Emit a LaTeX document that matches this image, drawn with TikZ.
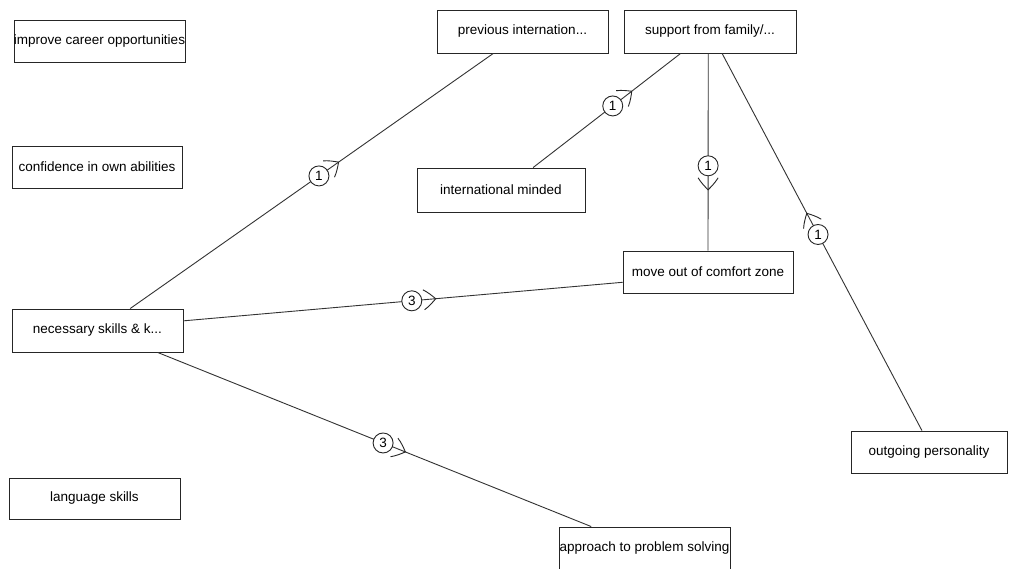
\documentclass[tikz,border=0pt]{standalone}
\usepackage{fontspec}
\setmainfont{Liberation Sans}
\usetikzlibrary{calc,decorations.markings}

\tikzset{
  concept/.style={draw=black!85, line width=0.9pt, fill=white, rectangle,
    inner sep=0pt, font=\fontsize{13.5}{15}\selectfont, text=black},
  numc/.style={draw=black!85, line width=0.9pt, fill=white, circle,
    inner sep=0pt, minimum size=20pt, font=\fontsize{13.5}{15}\selectfont},
  link/.style 2 args={draw=black!80, line width=0.9pt,
    postaction={decorate, decoration={markings,
      mark=at position #1 with {
        \draw[line width=0.9pt, black!85]
          (12pt,10pt) .. controls (17pt,7pt) and (21pt,3pt) .. (24pt,0pt)
          .. controls (21pt,-3pt) and (17pt,-7pt) .. (12pt,-10pt);
        \node[numc] {#2};
      }}}},
}

% box placed by its corners (x1,y1)-(x2,y2), y measured downwards
\newcommand{\conceptbox}[6]{%
  \node[concept, minimum width=#4pt-#2pt, minimum height=#5pt-#3pt]
    (#1) at ({(#2+#4)/2},{(#3+#5)/2}) {#6};}

\begin{document}
\begin{tikzpicture}[x=1pt, y=-1pt]
  \useasboundingbox[fill=white] (0,0) rectangle (1010,568);

  % concept boxes
  \conceptbox{career}{15}{20}{184}{62}{improve career opportunities}
  \conceptbox{conf}{12}{146}{182}{188}{confidence in own abilities}
  \conceptbox{prev}{437}{10}{608}{53}{previous internation...}
  \conceptbox{supp}{624}{10}{796}{53}{support from family/...}
  \conceptbox{intl}{417}{168}{585}{212}{international minded}
  \conceptbox{move}{623}{251}{793}{293}{move out of comfort zone}
  \conceptbox{nec}{12}{309}{183}{352}{necessary skills \& k...}
  \conceptbox{outg}{851}{431}{1007}{473}{outgoing personality}
  \conceptbox{lang}{9}{478}{180}{519}{language skills}
  \conceptbox{appr}{559}{527}{730}{569}{approach to problem solving}

  % weighted links
  \draw[link={0.52}{1}]
    ($(nec.north west)!0.69!(nec.north east)$) -- ($(prev.south west)!0.33!(prev.south east)$);
  \draw[link={0.54}{1}]
    ($(intl.north west)!0.69!(intl.north east)$) -- ($(supp.south west)!0.33!(supp.south east)$);
  \draw[link={0.57}{1}]
    ($(supp.south west)!0.49!(supp.south east)$) -- ($(move.north west)!0.50!(move.north east)$);
  \draw[link={0.52}{1}]
    ($(outg.north west)!0.455!(outg.north east)$) -- ($(supp.south west)!0.57!(supp.south east)$);
  \draw[link={0.52}{3}]
    ($(nec.north east)!0.28!(nec.south east)$) -- ($(move.north west)!0.74!(move.south west)$);
  \draw[link={0.52}{3}]
    ($(nec.south west)!0.85!(nec.south east)$) -- ($(appr.north west)!0.19!(appr.north east)$);
\end{tikzpicture}
\end{document}
